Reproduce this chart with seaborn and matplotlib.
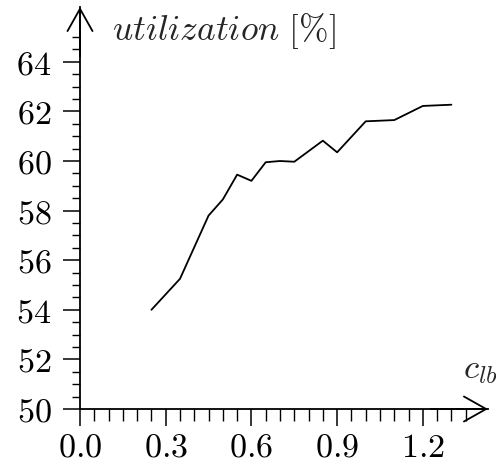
import numpy as np
import pandas as pd
import matplotlib
matplotlib.use("Agg")
import matplotlib.pyplot as plt
from matplotlib.ticker import FixedLocator, FuncFormatter
import seaborn as sns

# data
c_lb = [0.25, 0.35, 0.45, 0.50, 0.55, 0.60, 0.65, 0.70, 0.75, 0.85, 0.90, 1.00, 1.10, 1.20, 1.30]
utilization = [54.0, 55.25, 57.8, 58.45, 59.45, 59.2, 59.95, 60.0, 59.97, 60.82, 60.35, 61.6, 61.65, 62.22, 62.27]
x_major = [0.0, 0.3, 0.6, 0.9, 1.2]
y_major = [50, 52, 54, 56, 58, 60, 62, 64]

sns.set_style("white")
plt.rcParams["mathtext.fontset"] = "cm"
plt.rcParams["font.family"] = ["DejaVu Serif"]

W, H = 496, 468
fig = plt.figure(figsize=(W / 100, H / 100), dpi=100)
# axes: x=0 at px 80, tip at 488; y=50 at px 409 (from top), tip at 7
ax = fig.add_axes([80 / W, (H - 409) / H, 408 / W, 402 / H])

df = pd.DataFrame({"c_lb": c_lb, "utilization": utilization})
sns.lineplot(data=df, x="c_lb", y="utilization", ax=ax, color="black", lw=1.3)

xmax = 408 / 285.7
ymax = 50 + 402 / 24.8
ax.set_xlim(0, xmax)
ax.set_ylim(50, ymax)
ax.set_xlabel("")
ax.set_ylabel("")

for s in ["top", "right"]:
    ax.spines[s].set_visible(False)
for s in ["left", "bottom"]:
    ax.spines[s].set_linewidth(1.3)
    ax.spines[s].set_color("black")

ax.xaxis.set_major_locator(FixedLocator(x_major))
ax.yaxis.set_major_locator(FixedLocator(y_major))
ax.xaxis.set_minor_locator(FixedLocator(np.arange(0, 1.3501, 0.05)))
ax.yaxis.set_minor_locator(FixedLocator(np.arange(50, 65.001, 0.5)))
ax.xaxis.set_major_formatter(FuncFormatter(lambda v, p: r"$%.1f$" % v))
ax.yaxis.set_major_formatter(FuncFormatter(lambda v, p: r"$%d$" % round(v)))
ax.tick_params(which="major", direction="out", length=12.5, width=1.1, color="black",
               labelsize=24.5, labelcolor="black")
ax.tick_params(axis="x", which="major", pad=4)
ax.tick_params(axis="y", which="major", pad=8)
ax.tick_params(axis="x", which="minor", direction="out", length=8.5, width=1.0, color="black")
ax.tick_params(axis="y", which="minor", direction="out", length=6, width=1.0, color="black")
ax.tick_params(axis="x", which="both", bottom=True)
ax.tick_params(axis="y", which="both", left=True)

# arrow heads
ap = dict(arrowstyle="->,head_length=0.8,head_width=0.45", lw=1.3, color="black",
          mutation_scale=20, shrinkA=0, shrinkB=0)
ax.annotate("", xy=(xmax, 50), xytext=(xmax - 0.2, 50), arrowprops=ap, annotation_clip=False)
ax.annotate("", xy=(0, ymax), xytext=(0, ymax - 2), arrowprops=ap, annotation_clip=False)

ax.text(112 / W, 1 - 40 / H, r"$\mathit{utilization\ [\%]}$", transform=fig.transFigure,
        fontsize=25.5, ha="left", va="baseline")
ax.text(463 / W, 1 - 378 / H, r"$c_{lb}$", transform=fig.transFigure,
        fontsize=25, ha="left", va="baseline")

fig.savefig("out.png", dpi=100)
